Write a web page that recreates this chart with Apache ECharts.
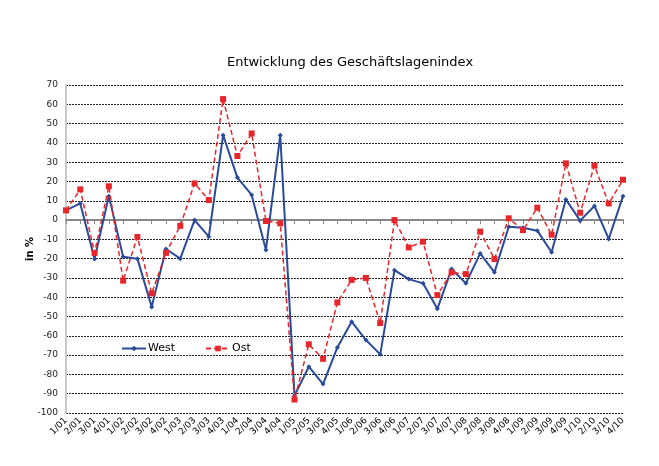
<!DOCTYPE html>
<html><head><meta charset="utf-8">
<script src="https://cdn.jsdelivr.net/npm/echarts@6/dist/echarts.min.js"></script>
<style>html,body{margin:0;padding:0;background:#fff}#c{width:659px;height:466px}</style>
</head><body><div id="c"></div>
<script>
const categories = ["1/01","2/01","3/01","4/01","1/02","2/02","3/02","4/02","1/03","2/03","3/03","4/03","1/04","2/04","3/04","4/04","1/05","2/05","3/05","4/05","1/06","2/06","3/06","4/06","1/07","2/07","3/07","4/07","1/08","2/08","3/08","4/08","1/09","2/09","3/09","4/09","1/10","2/10","3/10","4/10"];
const west = [5,8.6,-20.2,12.4,-19,-20,-45,-15,-20,0,-8.6,44,22,13,-15.5,44,-91,-76,-85,-66,-52.7,-62.2,-69.6,-26,-30.6,-32.8,-46,-25.4,-32.8,-17.3,-27.1,-3.5,-4,-5.5,-16.7,10.7,-0.3,7.3,-9.8,12.4];
const ost = [5,15.9,-17,17.5,-31.4,-8.8,-38,-17,-3,19,10.4,62.7,33.2,44.9,-0.5,-1.7,-93,-64.4,-71.9,-42.7,-31,-30,-53.4,0,-14.2,-11.2,-38.9,-27.1,-28,-6,-20.2,0.9,-5.2,6.4,-7.6,29.4,3.8,28.2,8.6,20.9];
const yTicks = {min:-100, max:70, interval:10};

const chart = echarts.init(document.getElementById('c'), null, {renderer:'canvas'});
const font = 'Verdana, "DejaVu Sans", sans-serif';
chart.setOption({
  animation:false,
  backgroundColor:'#fff',
  title:{text:'Entwicklung des Geschäftslagenindex', left:345, top:51, textAlign:'center',
    textStyle:{fontFamily:font, fontSize:13, fontWeight:'normal', color:'#000'}},
  legend:{left:116, top:338, itemGap:30, itemWidth:24, itemHeight:7,
    textStyle:{fontFamily:font, fontSize:11, color:'#000', padding:[0,0,0,-3]},
    data:['West','Ost']},
  grid:{left:66, right:36, top:85, bottom:53},
  xAxis:[{type:'category', data:categories, boundaryGap:false,
    axisLine:{show:false, onZero:false}, axisTick:{show:false},
    axisLabel:{rotate:45, fontFamily:font, fontSize:9, color:'#000', interval:0, margin:6},
    splitLine:{show:false}},
   {type:'category', data:categories, boundaryGap:false, position:'bottom',
    axisLine:{show:true, onZero:true, lineStyle:{color:'#888', width:2}},
    axisTick:{show:true, inside:false, length:4, interval:0, lineStyle:{color:'#888'}},
    axisLabel:{show:false}, splitLine:{show:false}}],
  yAxis:{type:'value', min:yTicks.min, max:yTicks.max, interval:yTicks.interval,
    name:'in %', nameLocation:'middle', nameGap:31, nameRotate:90, nameMoveOverlap:false,
    nameTextStyle:{fontFamily:font, fontSize:10, fontWeight:'bold', color:'#000'},
    axisLine:{show:true, lineStyle:{color:'#c8c8c8', width:2}},
    axisTick:{show:false},
    axisLabel:{fontFamily:font, fontSize:9, color:'#222', margin:8},
    splitLine:{show:true, lineStyle:{color:'#222', type:[2,1], width:1}}},
  series:[
    {name:'West', type:'line', data:west, xAxisIndex:0, symbol:'diamond', symbolSize:5,
      lineStyle:{color:'#2a4a9a', width:2}, itemStyle:{color:'#2a4a9a'}, z:3},
    {name:'Ost', type:'line', data:ost, xAxisIndex:0, symbol:'rect', symbolSize:6,
      lineStyle:{color:'#e8262a', width:1.5, type:[5,3]}, itemStyle:{color:'#e8262a'}, z:4}
  ]
});
</script></body></html>
